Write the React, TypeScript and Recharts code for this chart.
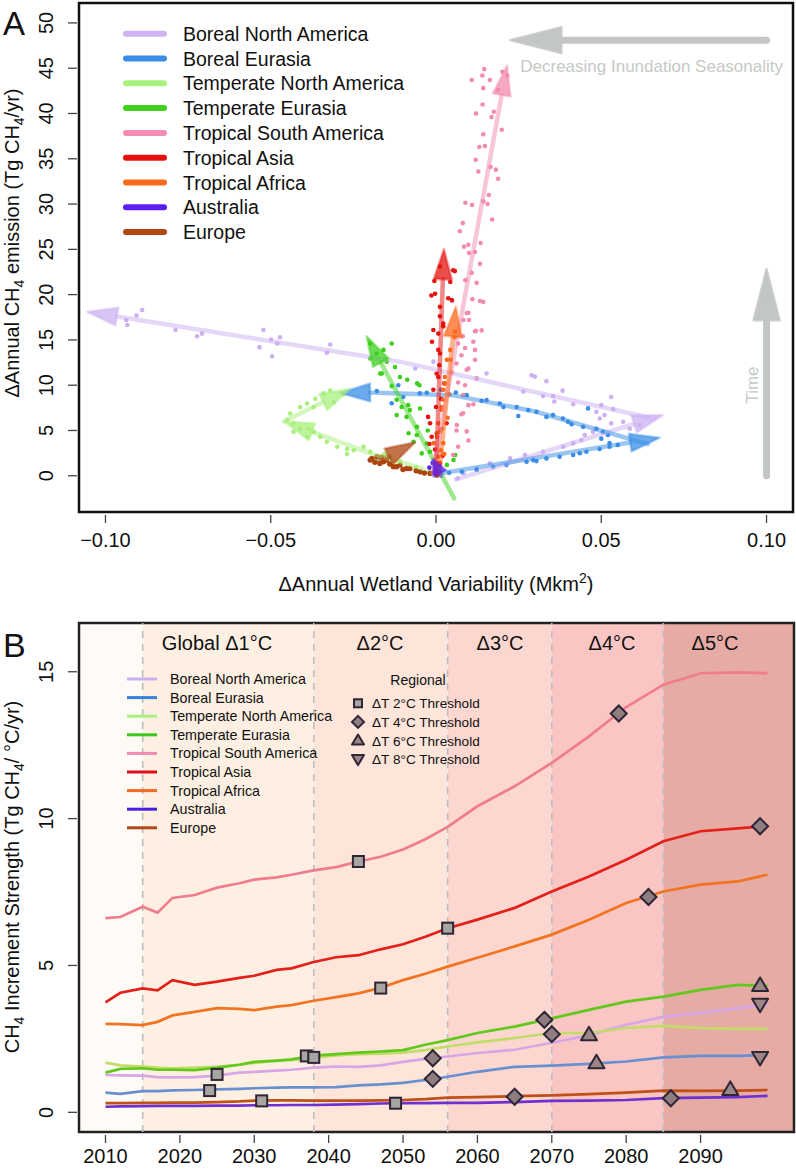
import React from 'react'
import {
  ComposedChart,
  Line,
  ReferenceArea,
  ReferenceLine,
  Scatter,
  ScatterChart,
  XAxis,
  YAxis,
} from 'recharts'

type Pt = [number, number]

const FONT = '"Liberation Sans", Arial, Helvetica, sans-serif'

// ---------- Panel A data ----------
const regionNames = [
  'Boreal North America',
  'Boreal Eurasia',
  'Temperate North America',
  'Temperate Eurasia',
  'Tropical South America',
  'Tropical Asia',
  'Tropical Africa',
  'Australia',
  'Europe',
]

const aXTicks = [-0.1, -0.05, 0, 0.05, 0.1]
const aYTicks = [0, 5, 10, 15, 20, 25, 30, 35, 40, 45, 50]

const borealNADots: Pt[] = [
  [-0.0889, 18.3], [-0.0906, 17.7], [-0.0937, 17.2], [-0.0934, 16.65], [-0.0788, 16.1],
  [-0.0723, 15.4], [-0.0708, 15.7], [-0.0522, 16.1], [-0.0499, 15.05], [-0.0472, 15.3],
  [-0.048, 14.6], [-0.0534, 14.2], [-0.0496, 13.2], [-0.032, 14.5], [-0.033, 13.6],
  [-0.0063, 11.85], [-0.0008, 12.6], [0.0153, 11.3], [0.0289, 11.1], [0.0299, 10.95],
  [0.0334, 10.45], [0.0264, 9.3], [0.0324, 8.8], [0.0354, 8.8], [0.0383, 9.4],
  [0.0358, 8.2], [0.0415, 7.9], [0.053, 8.7], [0.05, 7.8], [0.0536, 7.36],
  [0.0485, 7.06], [0.051, 6.7], [0.0495, 6.33], [0.053, 5.78], [0.0566, 5.97],
  [0.0586, 5.2], [0.0616, 5.6], [0.0475, 4.85], [0.044, 3.94], [0.0415, 3.6],
  [0.0385, 3.2], [0.0324, 2.66], [0.0269, 2.3], [0.0224, 1.92], [0.0163, 1.37],
  [0.0123, 0.8], [0.0083, 0.26], [0.045, 4.5], [0.0065, -0.3],
]

const borealEUDots: Pt[] = [
  [-0.0179, 9.35], [-0.0114, 9.99], [-0.0049, 9.1], [-0.0028, 9.16], [-0.0134, 8.0],
  [-0.0099, 8.7], [0.0093, 8.9], [0.0138, 8.28], [0.0153, 8.35], [0.0193, 7.98],
  [0.0204, 7.6], [0.0244, 7.6], [0.0279, 7.25], [0.0304, 7.06], [0.0334, 6.5],
  [0.0354, 6.7], [0.0384, 6.33], [0.0399, 5.97], [0.046, 7.44], [0.0485, 5.2],
  [0.0505, 4.85], [0.05, 4.1], [0.052, 4.5], [0.0525, 3.6], [0.0249, 6.6],
  [0.0078, 0.44], [0.0123, 0.63], [0.0173, 0.99], [0.0213, 1.18], [0.0274, 1.54],
  [0.0294, 1.73], [0.0334, 1.92], [0.0374, 2.1], [0.0415, 2.3], [0.0455, 2.66],
  [0.0495, 2.96], [0.0525, 3.2], [0.055, 3.4], [0.004, 0.33], [0.0304, 1.62],
  [0.0435, 2.48], [0.0015, 9.5], [0.006, 9.2], [0.041, 5.7], [0.0445, 5.4],
]

const temperateNADots: Pt[] = [
  [-0.0199, 2.65], [-0.0219, 3.2], [-0.0249, 2.83], [-0.0269, 2.4], [-0.0299, 3.2],
  [-0.033, 3.75], [-0.035, 4.3], [-0.037, 4.85], [-0.039, 4.3], [-0.0411, 5.2],
  [-0.0431, 5.78], [-0.0451, 6.15], [-0.0441, 6.88], [-0.0411, 7.6], [-0.039, 7.98],
  [-0.0365, 8.5], [-0.034, 9.1], [-0.037, 7.6], [-0.0309, 8.1], [-0.032, 9.4],
  [-0.0269, 2.96], [-0.0179, 1.7], [-0.0108, 1.54], [-0.0139, 2.1], [-0.0431, 4.85],
  [-0.0385, 5.2], [-0.006, 0.9], [-0.002, 0.5], [-0.0155, 2.4], [-0.028, 9.0],
]

const temperateEUDots: Pt[] = [
  [-0.0134, 14.6], [-0.0159, 13.9], [-0.0149, 12.6], [-0.0164, 11.3], [-0.0199, 12.95],
  [-0.0124, 12.0], [-0.0109, 10.9], [-0.0087, 10.6], [-0.0057, 10.2], [-0.0134, 9.9],
  [-0.0119, 8.4], [-0.0104, 7.6], [-0.0079, 7.25], [-0.0048, 7.43], [-0.0119, 6.7],
  [-0.0089, 6.5], [-0.0058, 5.4], [-0.0083, 4.7], [-0.0058, 4.5], [-0.0068, 3.75],
  [-0.0028, 3.57], [-0.0043, 2.47], [-0.0018, 2.66], [0.0058, 2.3], [0.0033, 1.2],
  [0.0053, 1.75], [-0.0199, 14.6], [-0.0169, 11.3], [-0.005, 10.0], [-0.0084, 7.8],
  [-0.018, 13.5], [-0.0025, 5.0], [0.001, 0.6],
]

const tropicalSADots: Pt[] = [
  [0.0108, 43.7], [0.0146, 44.9], [0.014, 44.2], [0.0163, 43.7], [0.0201, 44.6],
  [0.0215, 44.2], [0.0143, 42.8], [0.0188, 42.6], [0.0141, 41.0], [0.0121, 40.0],
  [0.0168, 39.6], [0.0175, 40.2], [0.0199, 38.2], [0.0143, 37.7], [0.0131, 36.3],
  [0.0148, 36.4], [0.012, 34.9], [0.0128, 33.6], [0.0165, 34.1], [0.0181, 33.8],
  [0.0188, 32.8], [0.016, 31.0], [0.0143, 30.3], [0.0156, 30.0], [0.0089, 30.15],
  [0.0109, 29.9], [0.017, 28.3], [0.0081, 27.9], [0.0072, 27.0], [0.0085, 25.3],
  [0.0098, 25.5], [0.0135, 25.7], [0.01, 24.6], [0.0118, 24.7], [0.0133, 23.4],
  [0.0108, 22.4], [0.0089, 21.6], [0.0123, 21.3], [0.011, 19.5], [0.0133, 19.3],
  [0.0143, 19.2], [0.0093, 17.97], [0.01, 17.2], [0.0083, 17.2], [0.0118, 15.95],
  [0.0138, 16.05], [0.0049, 19.3], [0.0098, 18.0], [0.0121, 16.0], [0.0081, 15.4],
  [0.0113, 14.8], [0.0088, 14.1], [0.0118, 13.9], [0.0118, 12.8], [0.0062, 12.4],
  [0.0098, 11.85], [0.0123, 10.75], [0.0088, 10.0], [0.0082, 8.9], [0.0098, 7.8],
  [0.0082, 6.9], [0.0062, 5.0], [0.0098, 3.9], [0.0067, 3.2], [0.0052, 2.3],
  [0.0067, 14.6], [0.0077, 13.3], [0.0093, 11.7], [0.0067, 10.3], [0.0113, 7.9],
  [0.0077, 6.8], [0.0093, 4.9], [0.0063, 5.6],
]

const tropicalAsiaDots: Pt[] = [
  [0.0012, 23.1], [0.0052, 22.7], [-0.0014, 19.9], [0.0037, 19.6], [0.0012, 18.65],
  [0.0022, 16.8], [0.0007, 15.7], [0.0057, 22.6], [-0.0003, 20.1], [0.0043, 21.4],
  [0.0012, 17.6], [0.0022, 16.5], [0.0007, 13.9], [0.0002, 11.3], [-0.0008, 9.5],
  [-0.0024, 6.5], [0.0032, 5.8], [-0.0013, 4.3], [-0.0003, 2.9], [0.0012, 1.4],
  [0.0048, 19.4], [-0.0008, 16.1], [0.0012, 13.5], [0.0007, 10.9], [-0.0018, 5.8],
  [0.0, 7.6], [0.001, 12.2], [-0.0012, 14.8], [0.0015, 8.5], [-0.002, 3.5],
  [0.0, 0.6], [0.0025, 10.2], [-0.0005, 21.5], [0.002, 2.2],
]

const tropicalAfricaDots: Pt[] = [
  [0.0057, 15.3], [0.0043, 13.9], [0.0045, 12.8], [0.0047, 11.4], [0.0027, 10.2],
  [0.0022, 8.4], [0.0017, 7.3], [0.0007, 5.8], [0.0003, 4.3], [0.0022, 3.6],
  [0.0007, 2.1], [0.0, 1.4], [0.0057, 15.9], [0.0033, 12.8], [0.0027, 10.9],
  [0.0022, 9.5], [0.0017, 7.6], [0.0002, 4.7], [-0.0008, 3.6], [0.0015, 2.8],
  [-0.0005, 1.7], [0.0, 1.0], [0.0012, 4.9], [0.0035, 6.4], [0.004, 9.0],
  [0.0012, 0.4], [0.0025, 2.4], [0.0018, 5.2],
]

const australiaDots: Pt[] = [
  [-0.001, 0.3], [0.0, 0.6], [-0.002, 0.9], [0.001, 1.1], [0.0005, 0.15], [-0.001, 1.4], [0.0012, 0.5],
]

const europeDots: Pt[] = [
  [-0.0194, 1.92], [-0.017, 1.36], [-0.0129, 0.99], [-0.0089, 0.8], [-0.0048, 0.44],
  [-0.0018, 0.26], [-0.0109, 1.18], [-0.0149, 1.73], [-0.0199, 1.73], [-0.0179, 2.1],
  [-0.0159, 1.55], [-0.0119, 0.99], [-0.0079, 0.8], [0.0002, 0.07], [-0.0165, 2.05],
  [-0.0185, 1.5], [-0.006, 0.55], [-0.0035, 0.3], [-0.014, 1.3], [-0.01, 0.7],
]

// trend arrows (polyline, head at the last point)
const borealNAArrows: Pt[][] = [
  [[0.006, -0.4], [0.0686, 6.7]],
  [[0.066, 6.3], [-0.011, 12.6], [-0.1055, 18.1]],
]
const borealEUArrows: Pt[][] = [
  [[0.002, 0.3], [0.0677, 4.2]],
  [[0.064, 3.5], [0.03, 7.1], [0.005, 8.9], [-0.02, 9.2], [-0.029, 9.15]],
]
const temperateNAArrows: Pt[][] = [
  [[-0.004, 0.8], [-0.02, 2.5], [-0.046, 6.0]],
  [[-0.046, 6.0], [-0.026, 9.6]],
]
const temperateEUArrows: Pt[][] = [[[0.0055, -2.5], [-0.021, 15.4]]]
const tropicalSAArrows: Pt[][] = [[[-0.001, 0.3], [0.0215, 45.3]]]
const tropicalAsiaArrows: Pt[][] = [[[0.0, 0.3], [0.0024, 25.0]]]
const tropicalAfricaArrows: Pt[][] = [[[0.001, 0.3], [0.006, 18.65]]]
const australiaArrows: Pt[][] = [[[0.0015, 0.0], [-0.001, 1.85]]]
const europeArrows: Pt[][] = [[[-0.017, 1.6], [-0.0063, 3.7]]]

const seasonalityArrow: Pt[] = [[0.1, 48.1], [0.0225, 48.1]]
const timeArrow: Pt[] = [[0.1, 0.0], [0.1, 22.8]]

// ---------- Panel B data ----------
const years = [
  2010, 2012, 2015, 2017, 2019, 2022, 2025, 2028, 2030, 2033, 2035, 2038, 2041, 2044,
  2047, 2050, 2053, 2056, 2060, 2065, 2070, 2075, 2080, 2085, 2090, 2095, 2099,
]
const borealNA = [1.27, 1.26, 1.25, 1.2, 1.19, 1.2, 1.25, 1.35, 1.38, 1.42, 1.45, 1.52, 1.56, 1.55, 1.6, 1.72, 1.82, 1.9, 2.02, 2.13, 2.37, 2.63, 2.98, 3.25, 3.38, 3.55, 3.66]
const borealEU = [0.67, 0.63, 0.72, 0.72, 0.75, 0.76, 0.78, 0.8, 0.82, 0.84, 0.85, 0.85, 0.86, 0.92, 0.95, 1.0, 1.1, 1.21, 1.38, 1.55, 1.59, 1.65, 1.73, 1.87, 1.92, 1.92, 1.95]
const temperateNA = [1.69, 1.6, 1.56, 1.52, 1.5, 1.52, 1.55, 1.62, 1.68, 1.75, 1.78, 1.86, 1.94, 1.98, 2.0, 2.03, 2.12, 2.24, 2.38, 2.53, 2.7, 2.7, 2.87, 2.94, 2.87, 2.84, 2.85]
const temperateEU = [1.35, 1.48, 1.5, 1.45, 1.45, 1.44, 1.52, 1.62, 1.72, 1.76, 1.8, 1.93, 1.98, 2.03, 2.07, 2.12, 2.3, 2.46, 2.7, 2.92, 3.2, 3.49, 3.77, 3.94, 4.17, 4.34, 4.3]
const tropicalSA = [6.61, 6.65, 7.0, 6.8, 7.3, 7.4, 7.65, 7.8, 7.92, 8.0, 8.09, 8.24, 8.35, 8.54, 8.7, 8.95, 9.3, 9.72, 10.42, 11.1, 11.9, 12.8, 13.8, 14.56, 14.95, 14.98, 14.95]
const tropicalAsia = [3.74, 4.07, 4.22, 4.15, 4.5, 4.34, 4.45, 4.58, 4.65, 4.85, 4.9, 5.12, 5.28, 5.35, 5.55, 5.72, 5.98, 6.27, 6.56, 6.96, 7.52, 8.03, 8.6, 9.23, 9.57, 9.67, 9.75]
const tropicalAfrica = [3.01, 3.0, 2.97, 3.08, 3.3, 3.42, 3.55, 3.52, 3.48, 3.6, 3.65, 3.8, 3.92, 4.05, 4.24, 4.5, 4.72, 4.96, 5.26, 5.65, 6.05, 6.56, 7.13, 7.52, 7.75, 7.86, 8.09]
const australia = [0.19, 0.2, 0.21, 0.22, 0.22, 0.22, 0.23, 0.23, 0.24, 0.24, 0.25, 0.25, 0.26, 0.28, 0.3, 0.31, 0.31, 0.32, 0.32, 0.35, 0.39, 0.4, 0.42, 0.48, 0.5, 0.52, 0.56]
const europe = [0.31, 0.31, 0.32, 0.32, 0.33, 0.33, 0.35, 0.37, 0.4, 0.41, 0.41, 0.4, 0.4, 0.4, 0.41, 0.42, 0.45, 0.5, 0.52, 0.55, 0.58, 0.62, 0.67, 0.74, 0.73, 0.74, 0.76]

const squareYears = [2025, 2024, 2031, 2037, 2038, 2044, 2047, 2049, 2056]
const squareValues = [1.29, 0.74, 0.39, 1.92, 1.87, 8.54, 4.23, 0.31, 6.27]
const diamondYears = [2054, 2054, 2065, 2069, 2070, 2079, 2083, 2086, 2098]
const diamondValues = [1.84, 1.14, 0.53, 3.15, 2.66, 13.58, 7.33, 0.48, 9.74]
const triUpYears = [2075, 2076, 2094, 2098]
const triUpValues = [2.64, 1.69, 0.78, 4.32]
const triDownYears = [2098, 2098]
const triDownValues = [3.68, 1.87]

const warmingBreaks = [2006.44, 2015, 2038, 2056, 2070, 2085, 2102.56]
const bXTicks = [2010, 2020, 2030, 2040, 2050, 2060, 2070, 2080, 2090]
const bYTicks = [0, 5, 10, 15]

// ---------- styles ----------
const aColors = ['#cbb0f2', '#3a8de6', '#a8f07c', '#3ccf1c', '#f28bb0', '#e4120e', '#fb6a1c', '#5a1ff0', '#ad4410']
const aLegendColors = ['#cfb4f4', '#3b8de6', '#a8f27e', '#3fd01c', '#f48cb4', '#e8100e', '#fc6a1c', '#5a1df2', '#b04612']
const bLineColors = ['#d8a6e6', '#6890d0', '#c2dc6a', '#62c81c', '#f07c8e', '#e4201a', '#f27420', '#7030d0', '#c0501a']
const bLegendColors = ['#c8b0f0', '#3a80d8', '#a8f080', '#3cc81c', '#f08cb4', '#e0101a', '#f86a20', '#4a20e0', '#b04818']
const bandColors = ['#fefaf5', '#fdf0e3', '#fde5da', '#fbd7cf', '#f9c6c4', '#e6aba5']

const aDots = [borealNADots, borealEUDots, temperateNADots, temperateEUDots, tropicalSADots, tropicalAsiaDots, tropicalAfricaDots, australiaDots, europeDots]
const aArrows = [borealNAArrows, borealEUArrows, temperateNAArrows, temperateEUArrows, tropicalSAArrows, tropicalAsiaArrows, tropicalAfricaArrows, australiaArrows, europeArrows]
const bSeries = [borealNA, borealEU, temperateNA, temperateEU, tropicalSA, tropicalAsia, tropicalAfrica, australia, europe]
const bKeys = ['bna', 'beu', 'tna', 'teu', 'tsa', 'tas', 'taf', 'aus', 'eur']

const bData = years.map((year, i) => {
  const row: Record<string, number> = { year }
  bKeys.forEach((k, j) => {
    row[k] = bSeries[j][i]
  })
  return row
})

const toXY = (pts: Pt[]) => pts.map(([x, y]) => ({ x, y }))

type ArrowStyle = {
  color: string
  width: number
  head: number
  half: number
  lineOpacity: number
  headOpacity: number
}

function arrowLine(s: ArrowStyle) {
  return (props: any) => {
    const pts: { x: number; y: number }[] = props.points || []
    if (pts.length < 2) return <g />
    const a = pts[pts.length - 2]
    const b = pts[pts.length - 1]
    const ang = Math.atan2(b.y - a.y, b.x - a.x)
    const c = Math.cos(ang)
    const sn = Math.sin(ang)
    const bx = b.x - s.head * c
    const by = b.y - s.head * sn
    const body = pts.slice(0, -1).concat([{ x: bx, y: by }])
    const d = body.map((p, i) => `${i ? 'L' : 'M'}${p.x},${p.y}`).join(' ')
    const headPts = `${b.x},${b.y} ${bx - s.half * sn},${by + s.half * c} ${bx + s.half * sn},${by - s.half * c}`
    return (
      <g>
        <path d={d} fill='none' stroke={s.color} strokeOpacity={s.lineOpacity} strokeWidth={s.width} strokeLinecap='round' strokeLinejoin='round' />
        <polygon points={headPts} fill={s.color} fillOpacity={s.headOpacity} stroke={s.color} strokeOpacity={s.lineOpacity * 0.8} strokeWidth={2.5} strokeLinejoin='round' />
      </g>
    )
  }
}

const noShape = () => <g />

const LeftTick = (props: any) => {
  const { x, y, payload } = props
  const tx = x - 26
  return (
    <g>
      <line x1={x - 11} x2={x - 2} y1={y} y2={y} stroke='#444' strokeWidth={1.3} />
      <text x={tx} y={y} transform={`rotate(-90, ${tx}, ${y})`} textAnchor='middle' fontSize={20} fontFamily={FONT} fill='#111'>
        {payload.value}
      </text>
    </g>
  )
}

const makeBottomTick = (fmt: (v: number) => string, dy: number) => (props: any) => {
  const { x, y, payload } = props
  return (
    <g>
      <line x1={x} x2={x} y1={y + 3} y2={y + 11} stroke='#444' strokeWidth={1.3} />
      <text x={x} y={y + dy} textAnchor='middle' fontSize={20} fontFamily={FONT} fill='#111'>
        {fmt(payload.value)}
      </text>
    </g>
  )
}

const fmtA = (v: number) => (v < 0 ? '−' : '') + Math.abs(v).toFixed(2)
const fmtB = (v: number) => String(v)

const markerStroke = '#2e2535'
const squareShape = (p: any) => <rect x={p.cx - 5.5} y={p.cy - 5.5} width={11} height={11} fill='#a8a6a2' stroke={markerStroke} strokeWidth={2} />
const diamondShape = (p: any) => (
  <polygon points={`${p.cx},${p.cy - 8} ${p.cx + 8},${p.cy} ${p.cx},${p.cy + 8} ${p.cx - 8},${p.cy}`} fill='#8f7e80' stroke={markerStroke} strokeWidth={2} />
)
const triUpShape = (p: any) => (
  <polygon points={`${p.cx},${p.cy - 8} ${p.cx + 8},${p.cy + 5.5} ${p.cx - 8},${p.cy + 5.5}`} fill='#9c8686' stroke={markerStroke} strokeWidth={2} strokeLinejoin='round' />
)
const triDownShape = (p: any) => (
  <polygon points={`${p.cx},${p.cy + 8} ${p.cx + 8},${p.cy - 5.5} ${p.cx - 8},${p.cy - 5.5}`} fill='#9c8686' stroke={markerStroke} strokeWidth={2} strokeLinejoin='round' />
)

function PanelA() {
  return (
    <ScatterChart width={796} height={590} margin={{ top: 3, right: 3, left: 0, bottom: 0 }}>
      <XAxis
        type='number'
        dataKey='x'
        domain={[-0.108, 0.108]}
        allowDataOverflow
        ticks={aXTicks}
        interval={0}
        height={78}
        axisLine={false}
        tickLine={false}
        tickSize={0}
        tickMargin={0}
        tick={makeBottomTick(fmtA, 35)}
      />
      <YAxis
        type='number'
        dataKey='y'
        domain={[-4, 52.2]}
        allowDataOverflow
        ticks={aYTicks}
        interval={0}
        width={79}
        axisLine={false}
        tickLine={false}
        tickSize={0}
        tickMargin={0}
        tick={LeftTick}
      />
      {aDots.map((dots, i) => (
        <Scatter
          key={`dots-${i}`}
          data={toXY(dots)}
          fill={aColors[i]}
          isAnimationActive={false}
          shape={(p: any) => <circle cx={p.cx} cy={p.cy} r={i === 8 ? 2.7 : 2.3} fill={aColors[i]} />}
        />
      ))}
      {aArrows.map((segs, i) =>
        segs.map((seg, j) => (
          <Scatter
            key={`arrow-${i}-${j}`}
            data={toXY(seg)}
            isAnimationActive={false}
            shape={noShape}
            lineType='joint'
            line={arrowLine({
              color: aColors[i],
              width: 4.5,
              head: i === 7 ? 16 : 30,
              half: i === 7 ? 7 : 9,
              lineOpacity: 0.5,
              headOpacity: 0.75,
            })}
          />
        ))
      )}
      {[seasonalityArrow, timeArrow].map((seg, j) => (
        <Scatter
          key={`gray-${j}`}
          data={toXY(seg)}
          isAnimationActive={false}
          shape={noShape}
          lineType='joint'
          line={arrowLine({ color: '#c3c7c4', width: 7, head: 51, half: 13, lineOpacity: 1, headOpacity: 1 })}
        />
      ))}
      <ReferenceArea x1={-0.108} x2={0.108} y1={-4} y2={52.2} fill='none' fillOpacity={0} stroke='#111' strokeWidth={2.5} ifOverflow='visible' />
    </ScatterChart>
  )
}

function PanelB() {
  const sq = squareYears.map((year, i) => ({ year, v: squareValues[i] }))
  const dm = diamondYears.map((year, i) => ({ year, v: diamondValues[i] }))
  const tu = triUpYears.map((year, i) => ({ year, v: triUpValues[i] }))
  const td = triDownYears.map((year, i) => ({ year, v: triDownValues[i] }))
  return (
    <ComposedChart width={796} height={579} data={bData} margin={{ top: 33, right: 2, left: 0, bottom: 0 }}>
      <XAxis
        type='number'
        dataKey='year'
        domain={[2006.44, 2102.56]}
        allowDataOverflow
        ticks={bXTicks}
        interval={0}
        height={37}
        axisLine={false}
        tickLine={false}
        tickSize={0}
        tickMargin={0}
        tick={makeBottomTick(fmtB, 31)}
      />
      <YAxis
        type='number'
        domain={[-0.67, 16.66]}
        allowDataOverflow
        ticks={bYTicks}
        interval={0}
        width={79}
        axisLine={false}
        tickLine={false}
        tickSize={0}
        tickMargin={0}
        tick={LeftTick}
      />
      {bandColors.map((c, i) => (
        <ReferenceArea
          key={`band-${i}`}
          x1={warmingBreaks[i]}
          x2={warmingBreaks[i + 1]}
          y1={-0.67}
          y2={16.66}
          fill={c}
          fillOpacity={1}
          stroke='none'
          ifOverflow='visible'
        />
      ))}
      {warmingBreaks.slice(1, -1).map(x => (
        <ReferenceLine key={`brk-${x}`} x={x} stroke='#bdbdbd' strokeWidth={1.6} strokeDasharray='7 6' />
      ))}
      {bKeys.map((k, i) => (
        <Line
          key={k}
          type='linear'
          dataKey={k}
          stroke={bLineColors[i]}
          strokeWidth={2.7}
          dot={false}
          activeDot={false}
          isAnimationActive={false}
        />
      ))}
      <Scatter data={sq} dataKey='v' isAnimationActive={false} shape={squareShape} />
      <Scatter data={dm} dataKey='v' isAnimationActive={false} shape={diamondShape} />
      <Scatter data={tu} dataKey='v' isAnimationActive={false} shape={triUpShape} />
      <Scatter data={td} dataKey='v' isAnimationActive={false} shape={triDownShape} />
      <ReferenceArea x1={2006.44} x2={2102.56} y1={-0.67} y2={16.66} fill='none' fillOpacity={0} stroke='#222' strokeWidth={2.5} ifOverflow='visible' />
    </ComposedChart>
  )
}

const bandLabels = ['Global Δ1°C', 'Δ2°C', 'Δ3°C', 'Δ4°C', 'Δ5°C']
const bandLabelX = [217, 380, 500, 612, 715]
const thresholdLabels = ['ΔT 2°C Threshold', 'ΔT 4°C Threshold', 'ΔT 6°C Threshold', 'ΔT 8°C Threshold']

function Overlay() {
  return (
    <svg width={796} height={1169} style={{ position: 'absolute', left: 0, top: 0, pointerEvents: 'none' }} fontFamily={FONT}>
      <text x={3} y={35} fontSize={33} fill='#111'>A</text>
      <text x={3} y={657} fontSize={34} fill='#111'>B</text>

      {/* panel A legend */}
      {regionNames.map((n, i) => {
        const y = 33.7 + i * 24.8
        return (
          <g key={`la-${i}`}>
            <line x1={126} x2={164} y1={y} y2={y} stroke={aLegendColors[i]} strokeWidth={6} strokeLinecap='round' />
            <text x={183} y={y + 7} fontSize={19.5} fill='#111'>{n}</text>
          </g>
        )
      })}

      <text x={783} y={72} textAnchor='end' fontSize={17} fill='#c5c9c5'>Decreasing Inundation Seasonality</text>
      <text x={758} y={385} transform='rotate(-90, 758, 385)' textAnchor='middle' fontSize={17} fill='#c5c9c5'>Time</text>

      <text x={19} y={243} transform='rotate(-90, 19, 243)' textAnchor='middle' fontSize={20} fill='#111'>
        ΔAnnual CH<tspan fontSize={14} dy={5}>4</tspan><tspan dy={-5}> emission (Tg CH</tspan><tspan fontSize={14} dy={5}>4</tspan><tspan dy={-5}>/yr)</tspan>
      </text>
      <text x={436} y={591} textAnchor='middle' fontSize={20} fill='#111'>
        ΔAnnual Wetland Variability (Mkm<tspan fontSize={14} dy={-8}>2</tspan><tspan dy={8}>)</tspan>
      </text>

      {/* panel B labels */}
      {bandLabels.map((t, i) => (
        <text key={t} x={bandLabelX[i]} y={650} textAnchor='middle' fontSize={20} fill='#111'>{t}</text>
      ))}
      {regionNames.map((n, i) => {
        const y = 679 + i * 18.6
        return (
          <g key={`lb-${i}`}>
            <line x1={127} x2={157} y1={y} y2={y} stroke={bLegendColors[i]} strokeWidth={3} />
            <text x={170} y={y + 5} fontSize={14.3} fill='#111'>{n}</text>
          </g>
        )
      })}
      <text x={418} y={685} textAnchor='middle' fontSize={14} fill='#111'>Regional</text>
      {thresholdLabels.map((t, i) => {
        const y = 703.3 + i * 18.6
        const cx = 358
        let mark
        if (i === 0) mark = <rect x={cx - 4} y={y - 4} width={8} height={8} fill='#a8a6a2' stroke={markerStroke} strokeWidth={2} />
        else if (i === 1) mark = <polygon points={`${cx},${y - 6} ${cx + 6},${y} ${cx},${y + 6} ${cx - 6},${y}`} fill='#8f7e80' stroke={markerStroke} strokeWidth={2} />
        else if (i === 2) mark = <polygon points={`${cx},${y - 6} ${cx + 6},${y + 4} ${cx - 6},${y + 4}`} fill='#9c8686' stroke={markerStroke} strokeWidth={2} strokeLinejoin='round' />
        else mark = <polygon points={`${cx},${y + 6} ${cx + 6},${y - 4} ${cx - 6},${y - 4}`} fill='#9c8686' stroke={markerStroke} strokeWidth={2} strokeLinejoin='round' />
        return (
          <g key={t}>
            {mark}
            <text x={372} y={y + 5} fontSize={13.6} fill='#111'>{t}</text>
          </g>
        )
      })}
      <text x={19} y={877} transform='rotate(-90, 19, 877)' textAnchor='middle' fontSize={20} fill='#111'>
        CH<tspan fontSize={14} dy={5}>4</tspan><tspan dy={-5}> Increment Strength (Tg CH</tspan><tspan fontSize={14} dy={5}>4</tspan><tspan dy={-5}>/ °C/yr)</tspan>
      </text>
    </svg>
  )
}

export default function App() {
  return (
    <div style={{ position: 'absolute', left: 0, top: 0, width: 796, height: 1169, background: '#fff', fontFamily: FONT }}>
      <div style={{ position: 'absolute', left: 0, top: 0 }}>
        <PanelA />
      </div>
      <div style={{ position: 'absolute', left: 0, top: 590 }}>
        <PanelB />
      </div>
      <Overlay />
    </div>
  )
}
